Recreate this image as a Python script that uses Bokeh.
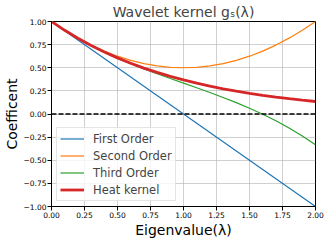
from bokeh.plotting import figure
from bokeh.models import FixedTicker, Span, Legend, LegendItem
from bokeh.embed import file_html
from bokeh.resources import INLINE

# Data (eigenvalue grid, step 0.1)
lam = [0.0, 0.1, 0.2, 0.3, 0.4, 0.5, 0.6, 0.7, 0.8, 0.9, 1.0,
       1.1, 1.2, 1.3, 1.4, 1.5, 1.6, 1.7, 1.8, 1.9, 2.0]
first_order = [1.0, 0.9, 0.8, 0.7, 0.6, 0.5, 0.4, 0.3, 0.2, 0.1, 0.0,
               -0.1, -0.2, -0.3, -0.4, -0.5, -0.6, -0.7, -0.8, -0.9, -1.0]
second_order = [1.0, 0.905, 0.82, 0.745, 0.68, 0.625, 0.58, 0.545, 0.52, 0.505, 0.5,
                0.505, 0.52, 0.545, 0.58, 0.625, 0.68, 0.745, 0.82, 0.905, 1.0]
third_order = [1.0, 0.9048, 0.8187, 0.7405, 0.6693, 0.6042, 0.544, 0.4878, 0.4347, 0.3835, 0.3333,
               0.2832, 0.232, 0.1788, 0.1227, 0.0625, -0.0027, -0.0738, -0.152, -0.2382, -0.3333]
heat_kernel = [1.0, 0.9048, 0.8187, 0.7408, 0.6703, 0.6065, 0.5488, 0.4966, 0.4493, 0.4066, 0.3679,
               0.3329, 0.3012, 0.2725, 0.2466, 0.2231, 0.2019, 0.1827, 0.1653, 0.1496, 0.1353]

x_ticks = [0.0, 0.25, 0.5, 0.75, 1.0, 1.25, 1.5, 1.75, 2.0]
y_ticks = [-1.0, -0.75, -0.5, -0.25, 0.0, 0.25, 0.5, 0.75, 1.0]
x_tick_labels = ["0.00", "0.25", "0.50", "0.75", "1.00", "1.25", "1.50", "1.75", "2.00"]
y_tick_labels = ["\u22121.00", "\u22120.75", "\u22120.50", "\u22120.25", "0.00", "0.25", "0.50", "0.75", "1.00"]

FONT = "DejaVu Sans"

p = figure(frame_width=264, frame_height=185, output_backend="svg", toolbar_location=None,
           x_range=(0, 2), y_range=(-1, 1),
           title="Wavelet kernel g\u209b(\u03bb)")
p.min_border_left = 44
p.min_border_right = 16
p.min_border_bottom = 40
p.min_border_top = 16

p.title.text_font = FONT
p.title.text_font_size = "14px"
p.title.text_font_style = "normal"
p.title.align = "center"
p.title.standoff = 3
p.title.offset = 0

p.outline_line_color = "black"
p.outline_line_width = 1
p.outline_line_alpha = 1

for ax, ticks, labels in ((p.xaxis[0], x_ticks, x_tick_labels), (p.yaxis[0], y_ticks, y_tick_labels)):
    ax.ticker = FixedTicker(ticks=ticks)
    ax.major_label_overrides = {t: l for t, l in zip(ticks, labels)}
    ax.minor_tick_line_color = None
    ax.major_tick_out = 4
    ax.major_tick_in = 0
    ax.major_tick_line_color = "black"
    ax.axis_line_color = "black"
    ax.major_label_text_font = FONT
    ax.major_label_text_font_size = "7.5px"
    ax.major_label_text_color = "black"
    ax.major_label_standoff = 1
    ax.axis_label_text_font = FONT
    ax.axis_label_text_font_size = "14px"
    ax.axis_label_text_font_style = "normal"
    ax.axis_label_text_color = "black"
    ax.axis_label_standoff = 1

p.xaxis.axis_label = "Eigenvalue(\u03bb)"
p.yaxis.axis_label = "Coefficent"

p.xgrid.ticker = FixedTicker(ticks=x_ticks)
p.ygrid.ticker = FixedTicker(ticks=y_ticks)
p.grid.grid_line_color = "#b0b0b0"
p.grid.grid_line_alpha = 0.6
p.grid.grid_line_width = 1

p.add_layout(Span(location=0, dimension="width", line_color="black",
                  line_dash="5 2", line_width=1.4))

r1 = p.line(lam, first_order, line_color="#1f77b4", line_width=1.2)
r2 = p.line(lam, second_order, line_color="#ff7f0e", line_width=1.2)
r3 = p.line(lam, third_order, line_color="#2ca02c", line_width=1.2)
r4 = p.line(lam, heat_kernel, line_color="#d62728", line_width=2.8)

legend = Legend(items=[LegendItem(label="First Order", renderers=[r1]),
                       LegendItem(label="Second Order", renderers=[r2]),
                       LegendItem(label="Third Order", renderers=[r3]),
                       LegendItem(label="Heat kernel", renderers=[r4])],
                location="bottom_left")
legend.label_text_font = FONT
legend.label_text_font_size = "11.5px"
legend.glyph_width = 24
legend.glyph_height = 15
legend.label_height = 15
legend.spacing = 2
legend.padding = 3
legend.margin = 5
legend.label_standoff = 9
legend.border_line_color = "#cccccc"
legend.background_fill_alpha = 0.8
p.add_layout(legend)

open("out.html", "w").write(file_html(p, INLINE))
